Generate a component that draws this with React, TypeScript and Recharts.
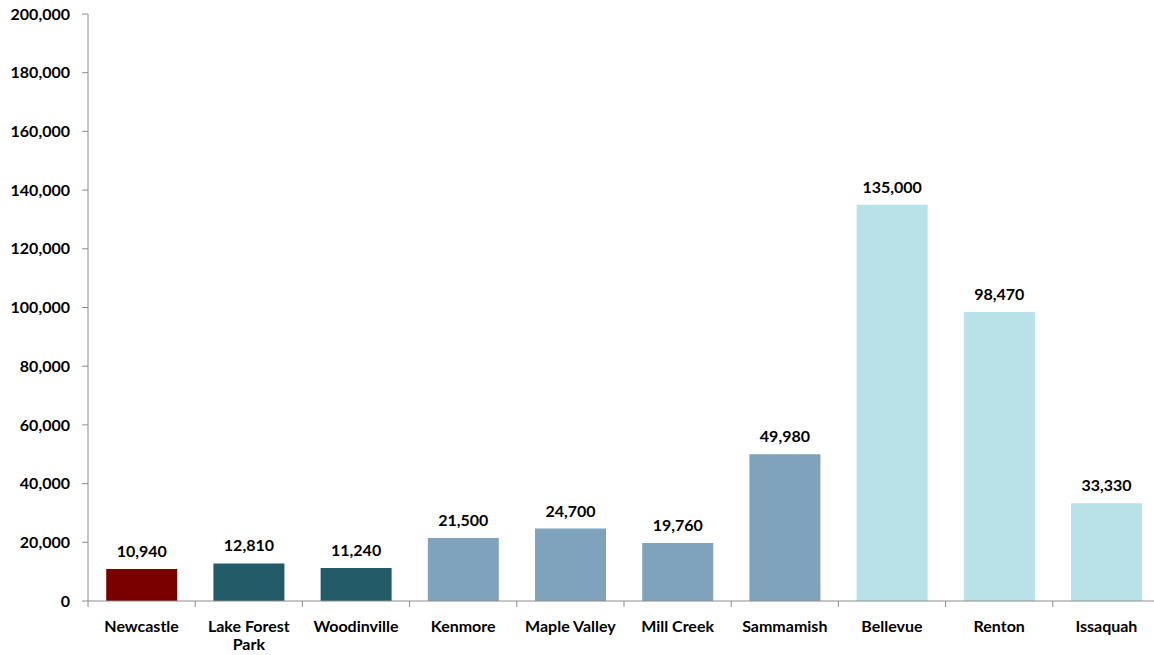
import React from 'react';
import { BarChart, Bar, XAxis, YAxis, Cell, LabelList, Text } from 'recharts';

// ========= city totals =========
const cities = [
  'Newcastle',
  'Lake Forest Park',
  'Woodinville',
  'Kenmore',
  'Maple Valley',
  'Mill Creek',
  'Sammamish',
  'Bellevue',
  'Renton',
  'Issaquah',
];
const totals = [10940, 12810, 11240, 21500, 24700, 19760, 49980, 135000, 98470, 33330];
const cityGroups = ['subject', 'peer', 'peer', 'mid', 'mid', 'mid', 'mid', 'large', 'large', 'large'];
const yTicks = [0, 20000, 40000, 60000, 80000, 100000, 120000, 140000, 160000, 180000, 200000];

const groupColors: Record<string, string> = {
  subject: '#7a0000',
  peer: '#235c68',
  mid: '#7fa3bc',
  large: '#b8e1e8',
};

const W = 1154;
const H = 655;
// plot runs a few px past the page edge in the reference
const CHART_W = 1160;
const AXIS_LEFT = 88;
const FONT = 'Lato, "Noto Sans", sans-serif';
const AXIS_GRAY = '#8c8c8c';
const TEXT_STYLE = { fontFamily: FONT, fontSize: 16, fontWeight: 700, fill: '#000' };

const fmt = (v: number) => v.toLocaleString('en-US');

function CityTick(props: any) {
  const { x, y, payload, index } = props;
  const band = (CHART_W - AXIS_LEFT) / cities.length;
  return (
    <g>
      <line x1={x + band / 2} y1={y} x2={x + band / 2} y2={y + 6} stroke={AXIS_GRAY} />
      {index === 0 && (
        <line x1={x - band / 2} y1={y} x2={x - band / 2} y2={y + 6} stroke={AXIS_GRAY} />
      )}
      <Text
        x={x}
        y={y + 20}
        width={band - 2}
        textAnchor="middle"
        verticalAnchor="start"
        lineHeight={18}
        style={TEXT_STYLE}
      >
        {payload.value}
      </Text>
    </g>
  );
}

export default function App() {
  const chartData = cities.map((name, i) => ({ name, value: totals[i], group: cityGroups[i] }));

  return (
    <div
      style={{ position: 'absolute', left: 0, top: 0, width: W, height: H, overflow: 'hidden', background: '#fff' }}
    >
      <BarChart
        width={CHART_W}
        height={H}
        data={chartData}
        margin={{ top: 14, right: 0, bottom: 0, left: 0 }}
        barCategoryGap="17%"
      >
        <YAxis
          width={AXIS_LEFT}
          domain={[0, 200000]}
          ticks={yTicks}
          tickFormatter={fmt}
          stroke={AXIS_GRAY}
          tickSize={6}
          tickMargin={12}
          tick={TEXT_STYLE}
          interval={0}
        />
        <XAxis
          dataKey="name"
          height={54}
          stroke={AXIS_GRAY}
          tickLine={false}
          tickSize={0}
          tickMargin={0}
          interval={0}
          tick={<CityTick />}
        />
        <Bar dataKey="value" isAnimationActive={false}>
          {chartData.map((d) => (
            <Cell key={d.name} fill={groupColors[d.group]} />
          ))}
          <LabelList
            dataKey="value"
            position="top"
            offset={12}
            formatter={(v: any) => fmt(Number(v))}
            style={TEXT_STYLE}
          />
        </Bar>
      </BarChart>
    </div>
  );
}
